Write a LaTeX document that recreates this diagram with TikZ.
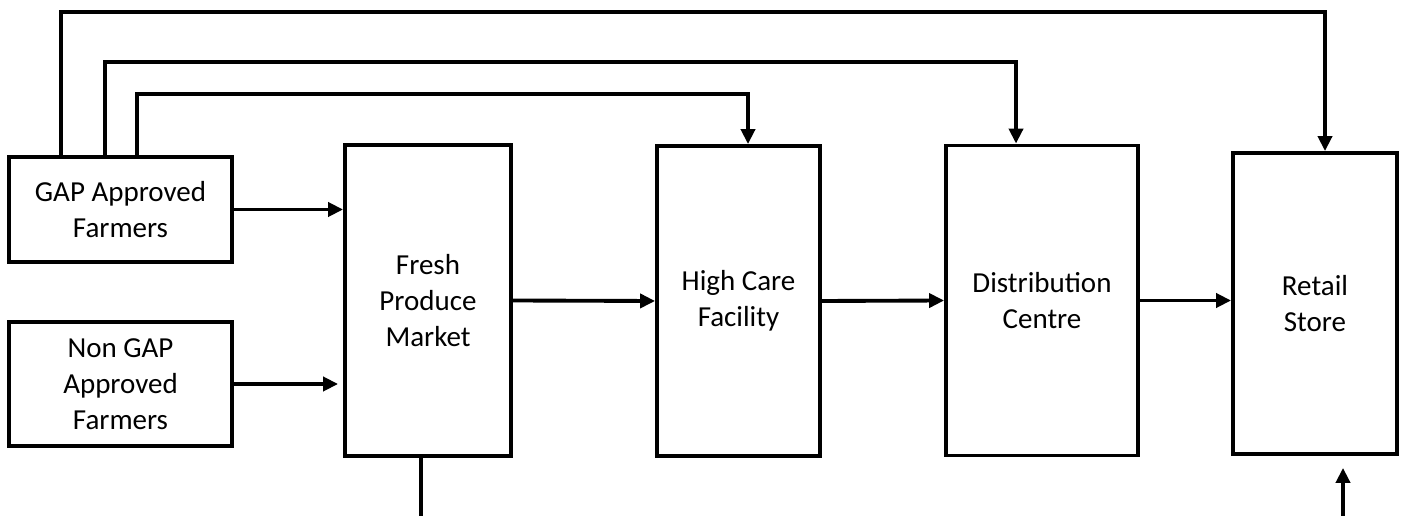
\documentclass[tikz,border=0pt]{standalone}
\usepackage{fontspec}
\setmainfont{Carlito}
\usetikzlibrary{arrows.meta,calc}

\tikzset{
  box/.style={draw, line width=2.2pt, inner sep=0pt, align=center,
    font=\fontsize{16.5}{20.5}\selectfont},
  flow/.style={line width=2.2pt, -{Triangle[length=0.3cm,width=0.28cm]}},
}

\begin{document}
\begin{tikzpicture}[x=0.02cm, y=-0.02cm]
        % Page size (pixels of the drawing)
        \useasboundingbox (0,0) rectangle (1403,516);

        % Farmers
        \node[box, minimum width=4.46cm, minimum height=2.1cm] (gap) at (120.5,209.5) {GAP Approved\\Farmers};
        \node[box, minimum width=4.46cm, minimum height=2.48cm] (nongap) at (120.5,384) {Non GAP\\Approved\\Farmers};

        % Chain
        \node[box, minimum width=3.32cm, minimum height=6.22cm] (fresh) at (428,300.5) {Fresh\\Produce\\Market};
        \node[box, minimum width=3.26cm, minimum height=6.2cm] (care) at (738.5,301) {High Care\\Facility};
        \node[box, minimum width=3.84cm, minimum height=6.2cm] (dist) at (1042,300.5) {Distribution\\Centre};
        \node[box, minimum width=3.28cm, minimum height=6.02cm] (retail) at (1315,303.5) {Retail\\Store};

        % Free ends at the bottom
        \coordinate (out) at (421,516);
        \coordinate (in) at (1343,516);

        % Into the market
        \draw[flow] (gap.east) -- (gap.east -| fresh.west);
        \draw[flow, shorten >=0.1cm] (nongap.east) -- (nongap.east -| fresh.west);

        % Along the chain
        \draw[flow] (fresh.east) -- (care.west);
        \draw[flow] (care.east) -- (dist.west);
        \draw[flow] (dist.east) -- (dist.east -| retail.west);

        % Direct routes from GAP farmers
        \draw[flow] ([xshift=1.08cm]gap.north west) -- ++(0,-143) -| ([xshift=0.2cm]retail.north);
        \draw[flow] ([xshift=1.96cm]gap.north west) -- ++(0,-93) -| ([xshift=-0.52cm]dist.north);
        \draw[flow] ([xshift=2.6cm]gap.north west) -- ++(0,-61) -| ([xshift=0.19cm]care.north);

        % Out of the market, into the store
        \draw[line width=2.2pt] (out |- fresh.south) -- (out);
        \draw[flow, shorten >=0.24cm] (in) -- (in |- retail.south);
      \end{tikzpicture}
\end{document}
